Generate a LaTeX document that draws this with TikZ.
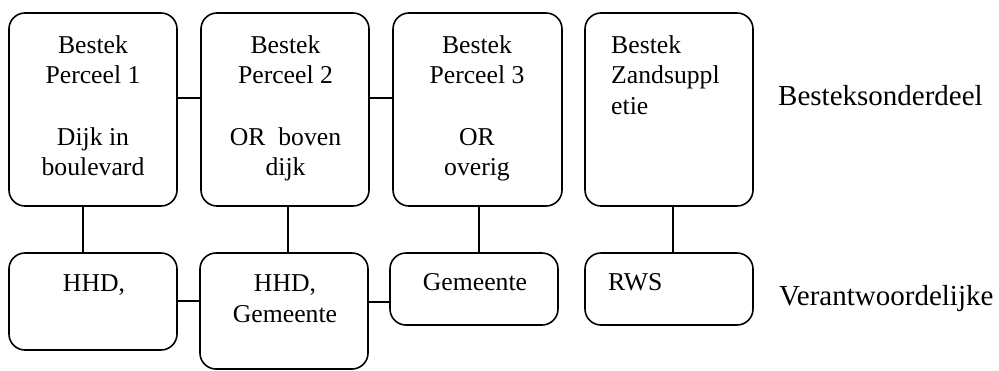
\documentclass[tikz,border=0pt]{standalone}
\usepackage{fontspec}
\setmainfont{Liberation Serif}
\begin{document}
\begin{tikzpicture}[x=1pt,y=-1pt,
  box/.style={draw, line width=1.6pt, rounded corners=16pt, inner sep=0pt, minimum width=168pt},
  con/.style={line width=1.6pt},
  txt/.style={anchor=base, inner sep=0pt, font=\fontsize{25.7}{30.7}\selectfont},
  txtl/.style={anchor=base west, inner sep=0pt, font=\fontsize{25.7}{30.7}\selectfont},
  lbl/.style={anchor=base west, inner sep=0pt, font=\fontsize{29}{34}\selectfont}]
\useasboundingbox (0,0) rectangle (999,370);
% top row
\node[box, minimum height=193pt] (b1) at (93,109.5) {};
\node[box, minimum height=193pt] (b2) at (285,109.5) {};
\node[box, minimum height=193pt, minimum width=169pt] (b3) at (477.5,109.5) {};
\node[box, minimum height=193pt] (b4) at (669,109.5) {};
% bottom row
\node[box, minimum height=97pt] (r1) at (93,301.5) {};
\node[box, minimum height=116pt] (r2) at (284,311) {};
\node[box, minimum height=72pt] (r3) at (474,289) {};
\node[box, minimum height=72pt] (r4) at (669,289) {};
% connectors
\coordinate (ht) at (0,98);
\coordinate (hb1) at (0,301);
\coordinate (hb2) at (0,302);
\draw[con] (b1.east |- ht) -- (b2.west |- ht);
\draw[con] (b2.east |- ht) -- (b3.west |- ht);
\draw[con] (r1.east |- hb1) -- (r2.west |- hb1);
\draw[con] (r2.east |- hb2) -- (r3.west |- hb2);
\draw[con] ([xshift=-10pt]b1.south) -- ([xshift=-10pt]b1.south |- r1.north);
\draw[con] ([xshift=3pt]b2.south) -- ([xshift=3pt]b2.south |- r2.north);
\draw[con] ([xshift=1.5pt]b3.south) -- ([xshift=1.5pt]b3.south |- r3.north);
\draw[con] ([xshift=4pt]b4.south) -- ([xshift=4pt]b4.south |- r4.north);
% texts box 1
\node[txt] (t1a) at (93,53) {Bestek};
\node[txt] (t1b) at (93,83.7) {Perceel 1};
\node[txt] (t1c) at (93,145.1) {Dijk in};
\node[txt] (t1d) at (93,175.8) {boulevard};
% box 2
\node[txt] (t2a) at (285.5,53) {Bestek};
\node[txt] (t2b) at (285.5,83.7) {Perceel 2};
\node[txt] (t2c) at (285.5,145.1) {OR\ \ boven};
\node[txt] (t2d) at (285.5,175.8) {dijk};
% box 3
\node[txt] (t3a) at (477,53) {Bestek};
\node[txt] (t3b) at (477,83.7) {Perceel 3};
\node[txt] (t3c) at (477,145.1) {OR};
\node[txt] (t3d) at (477,175.8) {overig};
% box 4
\node[txtl] (t4a) at (611,53) {Bestek};
\node[txtl] (t4b) at (611,83.7) {Zandsuppl};
\node[txtl] (t4c) at (611,114.4) {etie};
% bottom texts
\node[txt] (s1) at (94,291.5) {HHD,};
\node[txt] (s2a) at (285,291.5) {HHD,};
\node[txt] (s2b) at (285,322.2) {Gemeente};
\node[txt] (s3) at (475,290) {Gemeente};
\node[txtl] (s4) at (608,290) {RWS};
% side labels
\node[lbl] (l1) at (778,105) {Besteksonderdeel};
\node[lbl] (l2) at (779,305) {Verantwoordelijke};
\end{tikzpicture}
\end{document}
